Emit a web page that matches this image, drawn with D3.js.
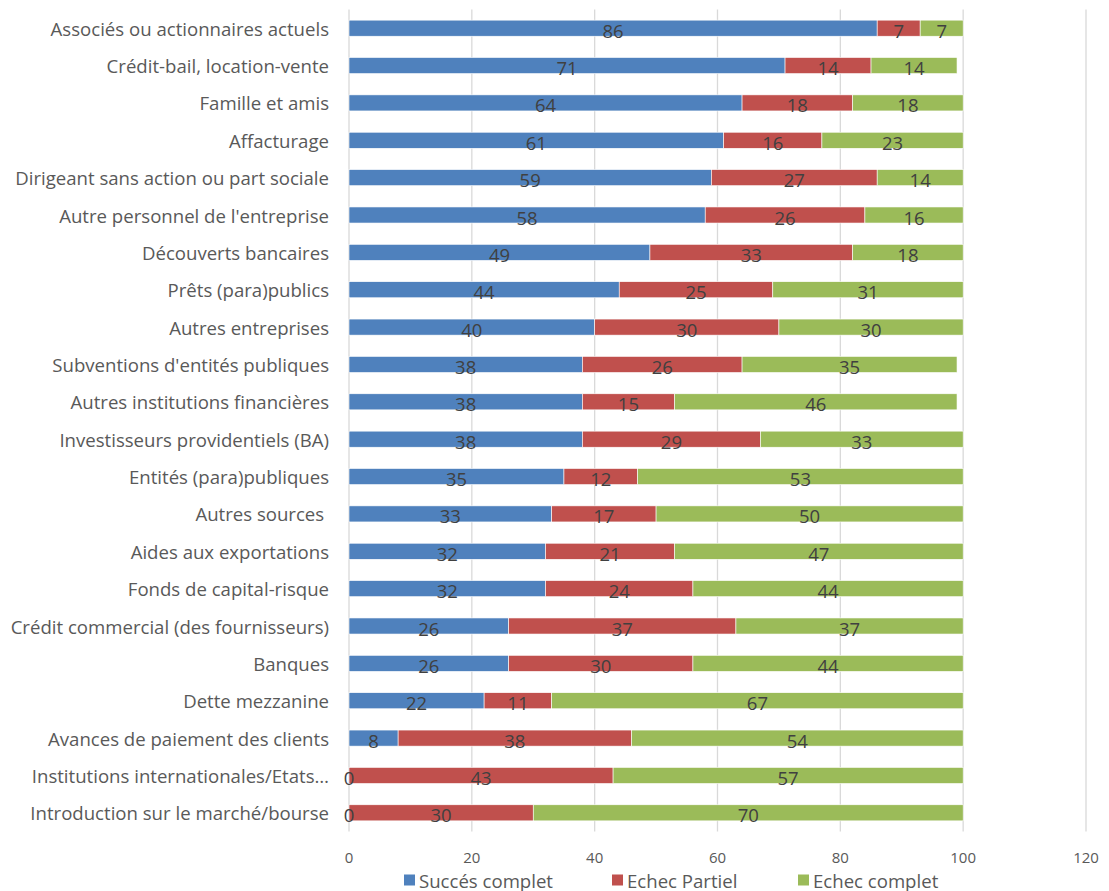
<!DOCTYPE html>
<html><head><meta charset="utf-8">
<script src="https://cdn.jsdelivr.net/npm/d3@7"></script>
<style>body{margin:0;background:#fff;}svg{display:block;font-family:"Open Sans",sans-serif;}</style>
</head><body>
<svg id="c" width="1109" height="891"></svg>
<script>
const categories = ["Associés ou actionnaires actuels","Crédit-bail, location-vente","Famille et amis","Affacturage","Dirigeant sans action ou part sociale","Autre personnel de l'entreprise","Découverts bancaires","Prêts (para)publics","Autres entreprises","Subventions d'entités publiques","Autres institutions financières","Investisseurs providentiels (BA)","Entités (para)publiques","Autres sources ","Aides aux exportations","Fonds de capital-risque","Crédit commercial (des fournisseurs)","Banques","Dette mezzanine","Avances de paiement des clients","Institutions internationales/Etats…","Introduction sur le marché/bourse"];
const succes = [86,71,64,61,59,58,49,44,40,38,38,38,35,33,32,32,26,26,22,8,0,0];
const partiel = [7,14,18,16,27,26,33,25,30,26,15,29,12,17,21,24,37,30,11,38,43,30];
const complet = [7,14,18,23,14,16,18,31,30,35,46,33,53,50,47,44,37,44,67,54,57,70];
const seriesNames = ["Succés complet","Echec Partiel","Echec complet"];
const colors = ["#4f81bd","#c0504d","#9bbb59"];
const xTicks = [0,20,40,60,80,100,120];

const svg = d3.select("#c");
const x = d3.scaleLinear().domain([0,120]).range([349,1086]);
const y = d3.scaleBand().domain(categories).range([9.5,831.5]).paddingInner(0.57).paddingOuter(0.285);

// gridlines
svg.append("g").selectAll("line").data(xTicks).join("line")
  .attr("x1",d=>x(d)).attr("x2",d=>x(d)).attr("y1",9.5).attr("y2",831.5)
  .attr("stroke","#d9d9d9").attr("stroke-width",1.3);

const rows = categories.map((c,i)=>({cat:c, v:[succes[i],partiel[i],complet[i]]}));
const segs = [];
rows.forEach(r=>{let s=0; r.v.forEach((v,k)=>{segs.push({cat:r.cat,k,v,x0:s,x1:s+v}); s+=v;});});

svg.append("g").selectAll("rect").data(segs.filter(d=>d.v>0)).join("rect")
  .attr("x",d=>x(d.x0)).attr("width",d=>x(d.x1)-x(d.x0))
  .attr("y",d=>y(d.cat)).attr("height",y.bandwidth())
  .attr("fill",d=>colors[d.k]).attr("stroke","#fff").attr("stroke-width",0.6);

svg.append("g").selectAll("text").data(segs).join("text")
  .attr("x",d=>x((d.x0+d.x1)/2)).attr("y",d=>y(d.cat)+y.bandwidth()/2+2)
  .attr("text-anchor","middle").attr("dominant-baseline","central")
  .attr("font-size",18.5).attr("fill","#404040").text(d=>d.v);

// category labels
svg.append("g").selectAll("text").data(categories).join("text")
  .attr("x",329).attr("y",d=>y(d)+y.bandwidth()/2).attr("text-anchor","end")
  .attr("dominant-baseline","central").attr("font-size",18.6).attr("fill","#595959")
  .attr("xml:space","preserve").text(d=>d);

// x tick labels
svg.append("g").selectAll("text").data(xTicks).join("text")
  .attr("x",d=>x(d)).attr("y",857).attr("text-anchor","middle").attr("dominant-baseline","central")
  .attr("font-size",15).attr("fill","#595959").text(d=>d);

// legend
const legX = [404,612,798];
const lg = svg.append("g").selectAll("g").data(seriesNames).join("g")
  .attr("transform",(d,i)=>`translate(${legX[i]},880)`);
lg.append("rect").attr("x",0).attr("y",-5.5).attr("width",11).attr("height",11).attr("fill",(d,i)=>colors[i]);
lg.append("text").attr("x",15).attr("y",0).attr("dominant-baseline","central")
  .attr("font-size",18.6).attr("fill","#595959").text(d=>d);
</script>
</body></html>
